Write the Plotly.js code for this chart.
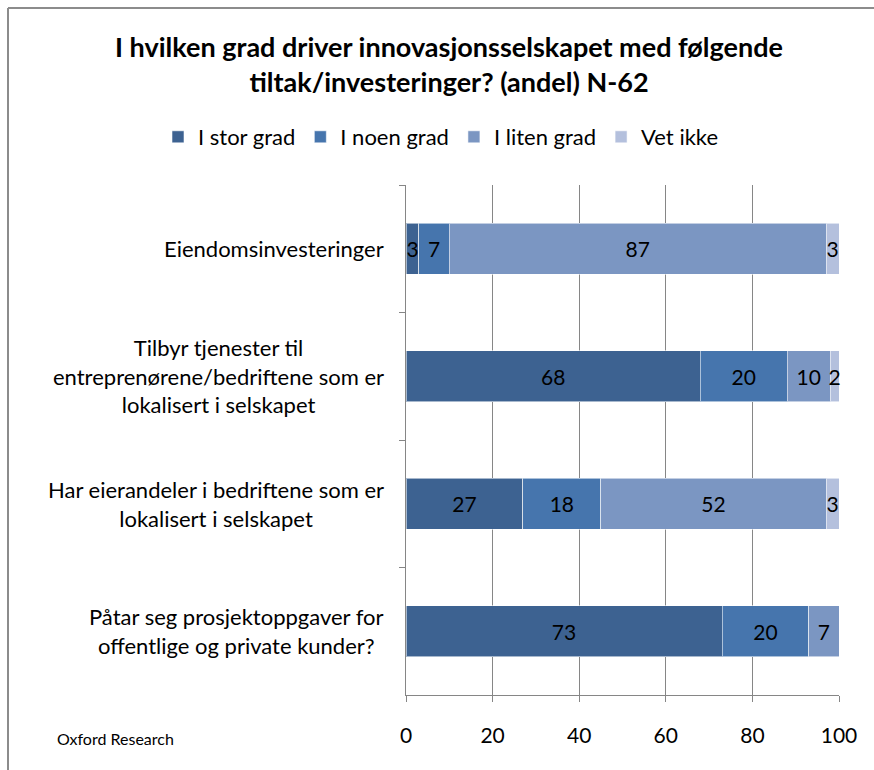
<!DOCTYPE html>
<html>
<head>
<meta charset="utf-8">
<script src="https://cdn.plot.ly/plotly-3.0.1.min.js"></script>
<style>
html,body{margin:0;padding:0;background:#fff;}
#chart{width:874px;height:770px;}
</style>
</head>
<body>
<div id="chart"></div>
<script>
// ---- data ----
const categories = [
  "Eiendomsinvesteringer",
  "Tilbyr tjenester til<br>entreprenørene/bedriftene som er<br>lokalisert i selskapet",
  "Har eierandeler i bedriftene som er<br>lokalisert i selskapet",
  "Påtar seg prosjektoppgaver for<br>offentlige og private kunder?"
];
const seriesNames = ["I stor grad", "I noen grad", "I liten grad", "Vet ikke"];
const iStorGrad  = [3, 68, 27, 73];
const iNoenGrad  = [7, 20, 18, 20];
const iLitenGrad = [87, 10, 52, 7];
const vetIkke    = [3, 2, 3, null];
const xTicks = [0, 20, 40, 60, 80, 100];
const titleText = "I hvilken grad driver innovasjonsselskapet med følgende<br>tiltak/investeringer? (andel) N-62";
const sourceText = "Oxford Research";

// ---- style ----
const colors = ["#3D6291", "#4675AD", "#7B96C2", "#B4C0DD"];
const FONT = "Lato, 'Liberation Sans', sans-serif";
const W = 874, H = 770;
const L = 406, R = 35, T = 185, B = 75;
const pw = W - L - R, ph = H - T - B;
const px2x = p => (p - L) / pw;
const py2y = p => (H - B - p) / ph;

const allSeries = [iStorGrad, iNoenGrad, iLitenGrad, vetIkke];
const traces = allSeries.map((vals, i) => ({
  type: "bar",
  orientation: "h",
  name: seriesNames[i],
  y: categories,
  x: vals,
  text: vals.map(v => (v == null ? "" : String(v))),
  textposition: "inside",
  insidetextanchor: "middle",
  textangle: 0,
  constraintext: "none",
  cliponaxis: false,
  textfont: {family: FONT, size: 21, color: "#000"},
  marker: {color: colors[i], line: {color: "rgba(255,255,255,0.55)", width: 1}},
  hoverinfo: "x+name"
}));

const annotations = categories.map(c => ({
  xref: "paper", yref: "y",
  x: px2x(386), y: c,
  xanchor: "right", yanchor: "middle",
  align: "center",
  text: c,
  showarrow: false,
  font: {family: FONT, size: 22, color: "#000"}
}));
annotations.push({
  xref: "paper", yref: "paper",
  x: px2x(55), y: py2y(738),
  xanchor: "left", yanchor: "middle",
  text: sourceText, showarrow: false,
  font: {family: FONT, size: 16, color: "#000"}
});

const borderColor = "#8C8C8C";
const shapes = [
  {type: "line", xref: "paper", yref: "paper", x0: px2x(8), x1: px2x(880), y0: py2y(8), y1: py2y(8), line: {color: borderColor, width: 2}},
  {type: "line", xref: "paper", yref: "paper", x0: px2x(8), x1: px2x(8), y0: py2y(8), y1: py2y(780), line: {color: borderColor, width: 2}}
];

const layout = {
  width: W, height: H,
  margin: {l: L, r: R, t: T, b: B},
  paper_bgcolor: "#fff", plot_bgcolor: "#fff",
  barmode: "stack",
  bargap: 0.6,
  font: {family: FONT, size: 20, color: "#000"},
  title: {
    text: titleText,
    font: {family: FONT, size: 27, color: "#000", weight: "bold"},
    xref: "container", x: 449 / W, xanchor: "center",
    yref: "container", y: 1 - 57 / H, yanchor: "top"
  },
  showlegend: true,
  legend: {
    orientation: "h",
    xref: "paper", x: px2x(158), xanchor: "left",
    yref: "paper", y: py2y(137), yanchor: "middle",
    font: {family: FONT, size: 22, color: "#000"},
    traceorder: "normal",
    itemwidth: 30,
    itemclick: false
  },
  uniformtext: {mode: "show", minsize: 21},
  xaxis: {
    range: [0, 100],
    tickvals: xTicks,
    ticktext: xTicks.map(String),
    showgrid: true, gridcolor: "#868686", gridwidth: 1,
    zeroline: false,
    showline: true, linecolor: "#868686", linewidth: 1,
    ticks: "outside", ticklen: 6, tickcolor: "#868686",
    ticklabelstandoff: 16,
    tickfont: {family: FONT, size: 21, color: "#000"},
    fixedrange: true
  },
  yaxis: {
    type: "category",
    autorange: "reversed",
    showticklabels: false,
    tickson: "boundaries",
    ticks: "outside", ticklen: 6, tickcolor: "#868686",
    showline: true, linecolor: "#868686", linewidth: 1,
    showgrid: false, zeroline: false,
    fixedrange: true
  },
  annotations: annotations,
  shapes: shapes
};

Plotly.newPlot("chart", traces, layout, {displayModeBar: false, staticPlot: true});
</script>
</body>
</html>
